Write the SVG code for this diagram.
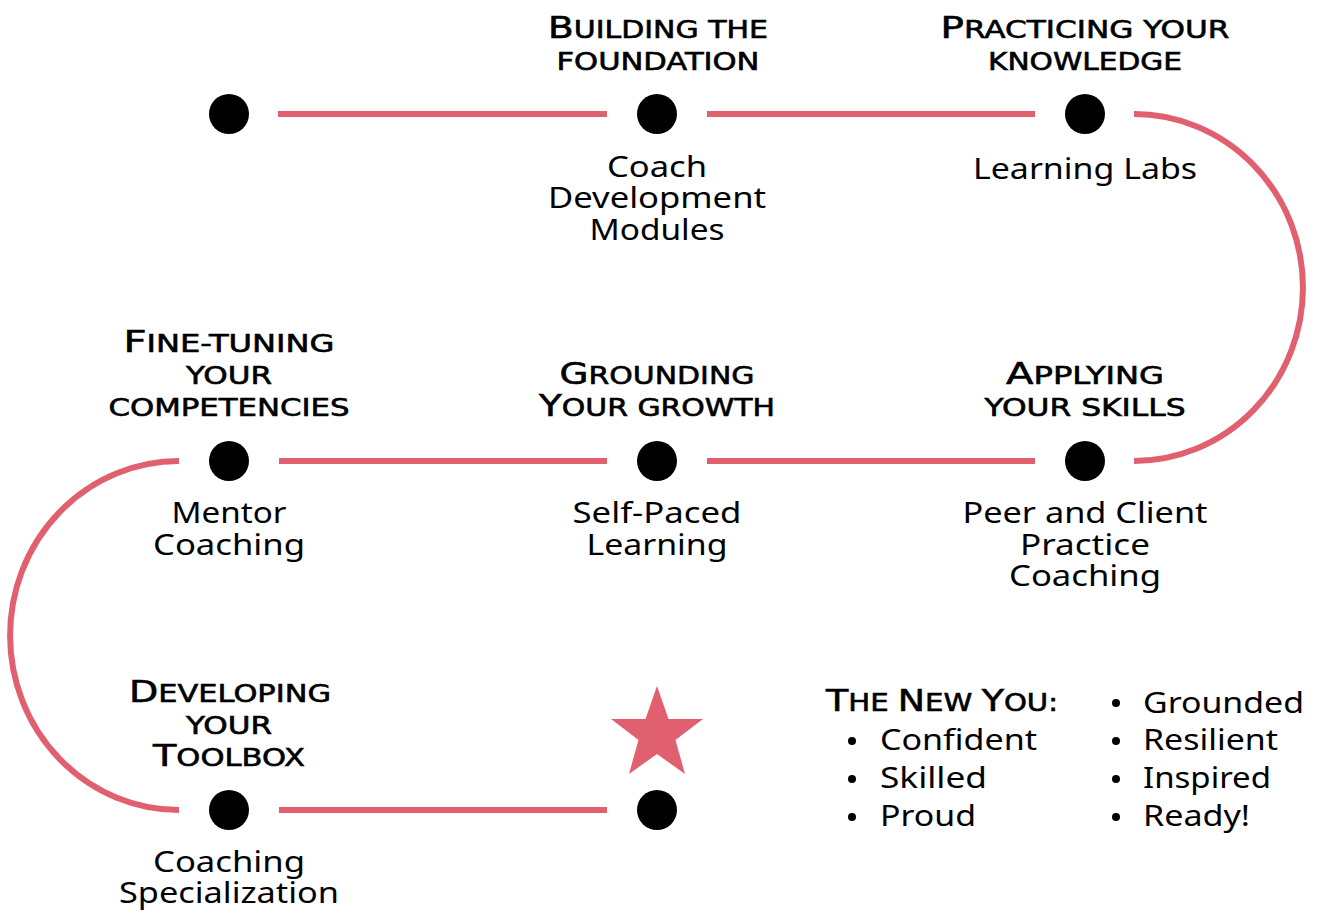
<svg xmlns="http://www.w3.org/2000/svg" width="1317" height="911" viewBox="0 0 1317 911">
<style>
.h{font-family:"DejaVu Sans","Liberation Sans",sans-serif;font-weight:400;font-size:24px;fill:#000;stroke:#000;stroke-width:0.6px;text-anchor:middle;}
.h .c{font-size:30px;}
.b{font-family:"Noto Sans","Open Sans",sans-serif;font-size:29px;fill:#000;text-anchor:middle;}
.l{font-family:"Noto Sans","Open Sans",sans-serif;font-size:29px;fill:#000;}
.con{stroke:#E0606F;stroke-width:6;fill:none;}
.dot{fill:#000;}
</style>
<rect width="1317" height="911" fill="#fff"/>
<g id="connectors">
<line class="con" x1="278" y1="114" x2="607" y2="114"/>
<line class="con" x1="707" y1="114" x2="1035" y2="114"/>
<path class="con" d="M1134,114 A169,173.5 0 0 1 1134,461"/>
<line class="con" x1="279" y1="461" x2="607" y2="461"/>
<line class="con" x1="707" y1="461" x2="1035" y2="461"/>
<path class="con" d="M179,461 A169,174.5 0 0 0 179,810"/>
<line class="con" x1="279" y1="810" x2="607" y2="810"/>
</g>
<g id="node-start"><circle class="dot" cx="229" cy="114" r="20"/></g>
<g id="node-foundation">
<circle class="dot" cx="657" cy="114" r="20"/>
<text class="h" x="658" y="38" textLength="220" lengthAdjust="spacingAndGlyphs"><tspan class="c">B</tspan>UILDING THE</text>
<text class="h" x="658" y="70" textLength="203" lengthAdjust="spacingAndGlyphs">FOUNDATION</text>
<text class="b" x="657" y="177" textLength="100" lengthAdjust="spacingAndGlyphs">Coach</text>
<text class="b" x="657" y="208" textLength="218" lengthAdjust="spacingAndGlyphs">Development</text>
<text class="b" x="657" y="240" textLength="135" lengthAdjust="spacingAndGlyphs">Modules</text>
</g>
<g id="node-practicing">
<circle class="dot" cx="1085" cy="114" r="20"/>
<text class="h" x="1085" y="38" textLength="289" lengthAdjust="spacingAndGlyphs"><tspan class="c">P</tspan>RACTICING YOUR</text>
<text class="h" x="1085" y="70" textLength="194" lengthAdjust="spacingAndGlyphs">KNOWLEDGE</text>
<text class="b" x="1085" y="179" textLength="224" lengthAdjust="spacingAndGlyphs">Learning Labs</text>
</g>
<g id="node-applying">
<circle class="dot" cx="1085" cy="461" r="20"/>
<text class="h" x="1085" y="384" textLength="158" lengthAdjust="spacingAndGlyphs"><tspan class="c">A</tspan>PPLYING</text>
<text class="h" x="1085" y="416" textLength="201" lengthAdjust="spacingAndGlyphs">YOUR SKILLS</text>
<text class="b" x="1085" y="523" textLength="245" lengthAdjust="spacingAndGlyphs">Peer and Client</text>
<text class="b" x="1085" y="555" textLength="130" lengthAdjust="spacingAndGlyphs">Practice</text>
<text class="b" x="1085" y="586" textLength="152" lengthAdjust="spacingAndGlyphs">Coaching</text>
</g>
<g id="node-grounding">
<circle class="dot" cx="657" cy="461" r="20"/>
<text class="h" x="657" y="384" textLength="195" lengthAdjust="spacingAndGlyphs"><tspan class="c">G</tspan>ROUNDING</text>
<text class="h" x="657" y="416" textLength="236" lengthAdjust="spacingAndGlyphs"><tspan class="c">Y</tspan>OUR GROWTH</text>
<text class="b" x="657" y="523" textLength="169" lengthAdjust="spacingAndGlyphs">Self-Paced</text>
<text class="b" x="657" y="555" textLength="141" lengthAdjust="spacingAndGlyphs">Learning</text>
</g>
<g id="node-finetuning">
<circle class="dot" cx="229" cy="461" r="20"/>
<text class="h" x="229" y="352" textLength="211" lengthAdjust="spacingAndGlyphs"><tspan class="c">F</tspan>INE-TUNING</text>
<text class="h" x="229" y="384" textLength="86" lengthAdjust="spacingAndGlyphs">YOUR</text>
<text class="h" x="229" y="416" textLength="241" lengthAdjust="spacingAndGlyphs">COMPETENCIES</text>
<text class="b" x="229" y="523" textLength="115" lengthAdjust="spacingAndGlyphs">Mentor</text>
<text class="b" x="229" y="555" textLength="152" lengthAdjust="spacingAndGlyphs">Coaching</text>
</g>
<g id="node-toolbox">
<circle class="dot" cx="229" cy="810" r="20"/>
<text class="h" x="230" y="702" textLength="202" lengthAdjust="spacingAndGlyphs"><tspan class="c">D</tspan>EVELOPING</text>
<text class="h" x="229" y="734" textLength="86" lengthAdjust="spacingAndGlyphs">YOUR</text>
<text class="h" x="229" y="766" textLength="152" lengthAdjust="spacingAndGlyphs"><tspan class="c">T</tspan>OOLBOX</text>
<text class="b" x="229" y="872" textLength="152" lengthAdjust="spacingAndGlyphs">Coaching</text>
<text class="b" x="229" y="903" textLength="220" lengthAdjust="spacingAndGlyphs">Specialization</text>
</g>
<g id="node-end">
<circle class="dot" cx="657" cy="810" r="20"/>
<polygon fill="#E0606F" points="657,686 668.5,719 703,719 675.5,740 685,774 657,754 629,774 638.5,740 611,719 645.5,719"/>
</g>
<g id="new-you">
<text class="h" x="942" y="711" textLength="232" lengthAdjust="spacingAndGlyphs"><tspan class="c">T</tspan>HE <tspan class="c">N</tspan>EW <tspan class="c">Y</tspan>OU:</text>
<circle class="dot" cx="852" cy="741" r="4"/>
<circle class="dot" cx="852" cy="779" r="4"/>
<circle class="dot" cx="852" cy="817" r="4"/>
<circle class="dot" cx="1116" cy="703" r="4"/>
<circle class="dot" cx="1116" cy="741" r="4"/>
<circle class="dot" cx="1116" cy="779" r="4"/>
<circle class="dot" cx="1116" cy="817" r="4"/>
<text class="l" x="880" y="750" textLength="157" lengthAdjust="spacingAndGlyphs">Confident</text>
<text class="l" x="880" y="788" textLength="107" lengthAdjust="spacingAndGlyphs">Skilled</text>
<text class="l" x="880" y="826" textLength="96" lengthAdjust="spacingAndGlyphs">Proud</text>
<text class="l" x="1143" y="713" textLength="161" lengthAdjust="spacingAndGlyphs">Grounded</text>
<text class="l" x="1143" y="750" textLength="135" lengthAdjust="spacingAndGlyphs">Resilient</text>
<text class="l" x="1143" y="788" textLength="128" lengthAdjust="spacingAndGlyphs">Inspired</text>
<text class="l" x="1143" y="826" textLength="107" lengthAdjust="spacingAndGlyphs">Ready!</text>
</g>
</svg>
